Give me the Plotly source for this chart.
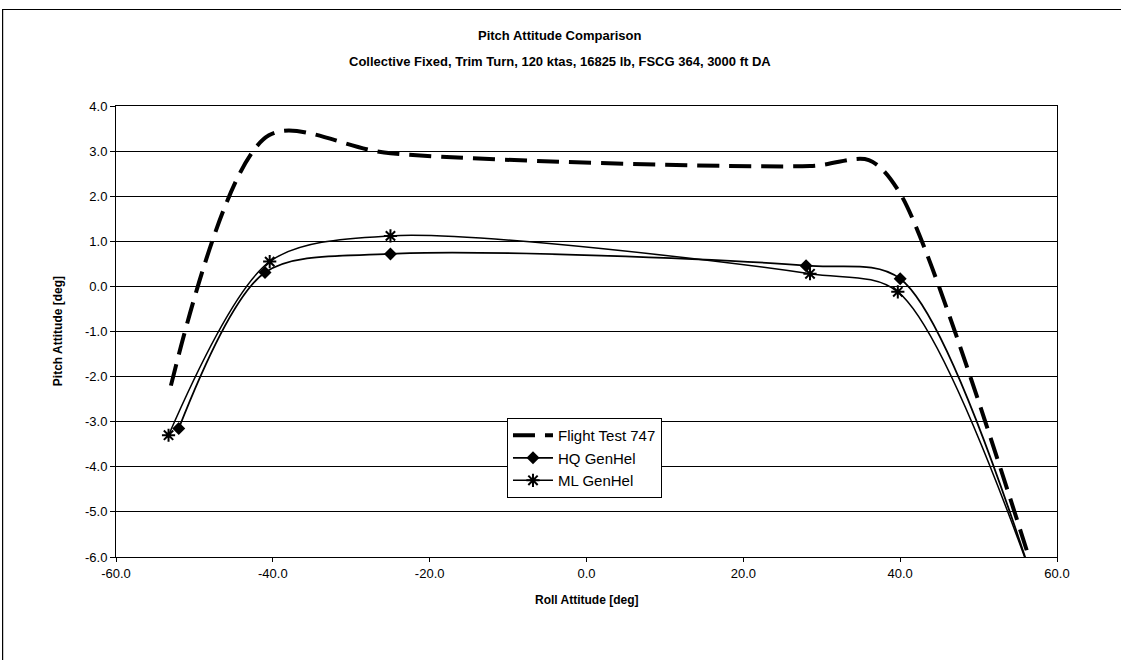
import plotly.graph_objects as go

# Flight test pitch attitude vs roll attitude
ft_roll = [-53.0, -40.5, -25.0, 28.5, 36.0, 40.0, 56.5]
ft_pitch = [-2.2, 3.35, 2.95, 2.67, 2.8, 2.06, -6.05]

# HQ GenHel simulation
hq_roll = [-52.0, -41.0, -25.0, 28.0, 40.0, 56.5]
hq_pitch = [-3.15, 0.31, 0.72, 0.46, 0.17, -6.3]

# ML GenHel simulation
ml_roll = [-53.3, -40.4, -25.0, 28.5, 39.7, 56.5]
ml_pitch = [-3.3, 0.55, 1.12, 0.28, -0.12, -6.3]

x_ticks = [-60, -40, -20, 0, 20, 40, 60]
y_ticks = [-6, -5, -4, -3, -2, -1, 0, 1, 2, 3, 4]

FONT = "Liberation Sans, Arial, sans-serif"
SMOOTH = 0.85

fig = go.Figure()

fig.add_trace(go.Scatter(
    x=ft_roll, y=ft_pitch, mode="lines", name="Flight Test 747",
    line=dict(color="black", width=4, dash="22px,10px", shape="spline", smoothing=SMOOTH),
))
fig.add_trace(go.Scatter(
    x=hq_roll, y=hq_pitch, mode="lines+markers", name="HQ GenHel",
    line=dict(color="black", width=1.8, shape="spline", smoothing=SMOOTH),
    marker=dict(symbol="diamond", size=10, color="black"),
))
fig.add_trace(go.Scatter(
    x=ml_roll, y=ml_pitch, mode="lines+markers", name="ML GenHel",
    line=dict(color="black", width=1.5, shape="spline", smoothing=SMOOTH),
    marker=dict(symbol="asterisk-open", size=11, color="black",
                line=dict(color="black", width=2)),
))

axis_common = dict(
    showline=True, linecolor="black", linewidth=1, mirror=True,
    ticks="outside", tickcolor="black", tickwidth=1,
    tickfont=dict(family=FONT, size=13, color="black"),
    zeroline=False,
)

fig.update_xaxes(
    range=[-60, 60], tickvals=x_ticks,
    ticktext=[f"{v:.1f}" for v in x_ticks],
    ticklen=4, showgrid=False, **axis_common,
)
fig.update_yaxes(
    range=[-6, 4], tickvals=y_ticks,
    ticktext=[f"{v:.1f}" for v in y_ticks],
    ticklen=5, showgrid=True, gridcolor="black", gridwidth=1,
    **axis_common,
)

annotations = [
    dict(text="<b>Pitch Attitude Comparison</b>", x=0.472, y=1.157,
         font=dict(size=13)),
    dict(text="<b>Collective Fixed, Trim Turn, 120 ktas, 16825 lb, FSCG 364, 3000 ft DA</b>",
         x=0.472, y=1.099, font=dict(size=13)),
    dict(text="<b>Roll Attitude [deg]</b>", x=0.5, y=-0.095, font=dict(size=12)),
    dict(text="<b>Pitch Attitude [deg]</b>", x=-0.062, y=0.5, textangle=-90,
         font=dict(size=12)),
]
for a in annotations:
    a.update(xref="paper", yref="paper", showarrow=False,
             xanchor="center", yanchor="middle")
    a["font"].update(family=FONT, color="black")

fig.update_layout(
    width=1121, height=660,
    margin=dict(l=116, r=64, t=106, b=103),
    paper_bgcolor="white", plot_bgcolor="white",
    showlegend=True,
    legend=dict(
        x=0.4155, y=0.308, xanchor="left", yanchor="top",
        bgcolor="white", bordercolor="black", borderwidth=1,
        font=dict(family=FONT, size=15, color="black"),
        tracegroupgap=0, itemwidth=40,
    ),
    annotations=annotations,
    shapes=[dict(
        type="rect", xref="paper", yref="paper",
        x0=-0.1205, x1=1.1265, y0=1.214, y1=-0.25,
        line=dict(color="black", width=1.2), fillcolor="rgba(0,0,0,0)",
        layer="below",
    )],
)

fig.write_html("out.html")
